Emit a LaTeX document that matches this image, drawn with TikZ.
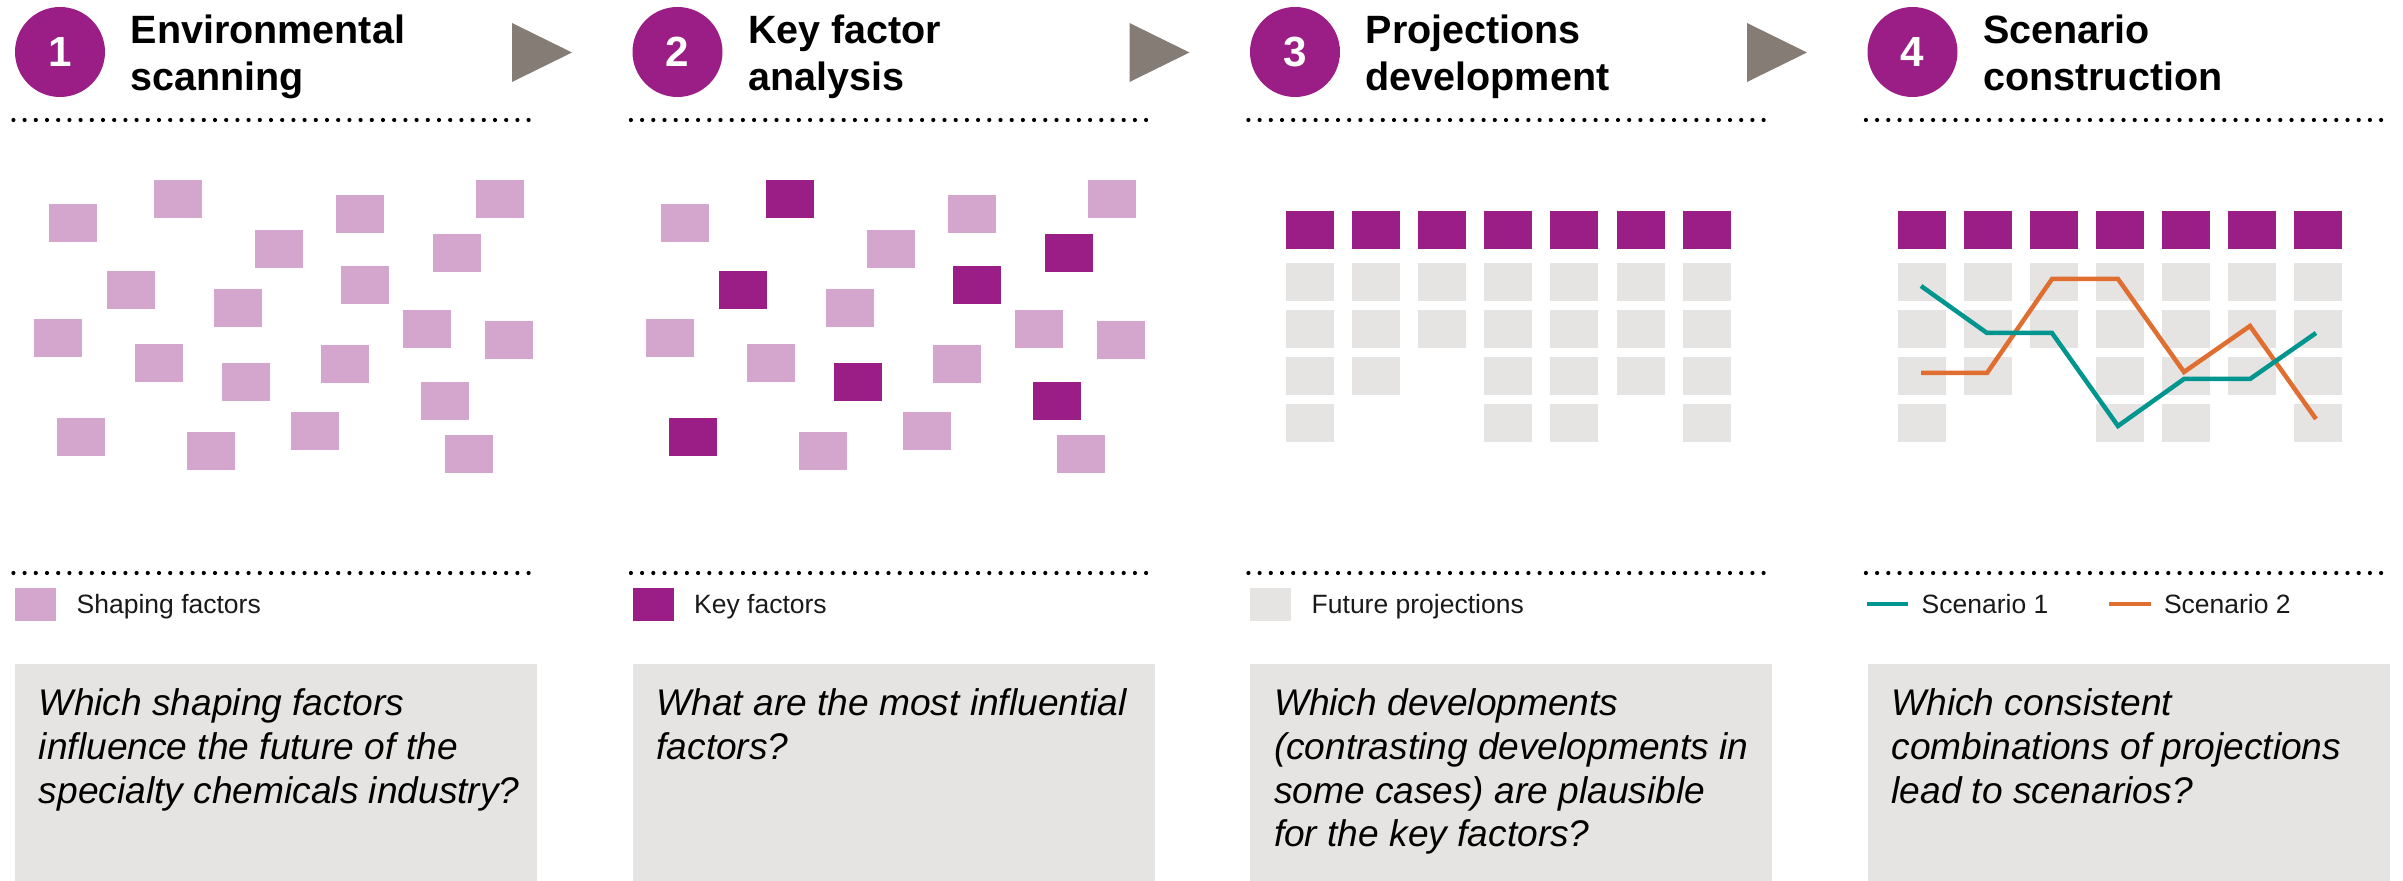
\documentclass[tikz,border=0pt]{standalone}
\usepackage{xcolor}
\usepackage{tikz}
\usepackage{fontspec}
\setmainfont{Liberation Sans}
\definecolor{stepcolor}{HTML}{9B1D86}
\definecolor{factorcolor}{HTML}{D5A6CD}
\definecolor{cellcolor}{HTML}{E5E4E2}
\definecolor{arrowcolor}{HTML}{857C76}
\definecolor{scenonecolor}{HTML}{00968F}
\definecolor{scentwocolor}{HTML}{E06E30}
\tikzset{
  shaping/.style={rectangle, inner sep=0, minimum width=0.48cm, minimum height=0.38cm, fill=factorcolor},
  keyf/.style={shaping, fill=stepcolor},
  proj/.style={shaping, fill=cellcolor},
  stepnum/.style={circle, inner sep=0, minimum size=0.9cm, fill=stepcolor, text=white, font=\fontsize{12pt}{14pt}\selectfont\bfseries},
  steptitle/.style={anchor=north west, inner sep=0, align=left, font=\fontsize{11.24pt}{13.5pt}\selectfont\bfseries},
  legendtxt/.style={anchor=base west, inner sep=0, text=black!90, font=\fontsize{7.54pt}{9pt}\selectfont},
  legendbox/.style={rectangle, inner sep=0, minimum width=0.41cm, minimum height=0.33cm},
  qbox/.style={rectangle, inner sep=0, minimum width=5.22cm, minimum height=2.17cm, fill=cellcolor},
  qtext/.style={anchor=north west, inner sep=0, align=left, font=\fontsize{10.56pt}{12.43pt}\selectfont\itshape},
  dotline/.style={line width=0.042cm, line cap=round, dash pattern=on 0pt off 0.112cm},
  stepmark/.style={fill=arrowcolor},
  scenA/.style={line width=0.045cm, scenonecolor},
  scenB/.style={line width=0.045cm, scentwocolor}
}
\begin{document}
\begin{tikzpicture}%
\useasboundingbox (0,0) rectangle (24.03,-8.81);%
\node[stepnum] (n1) at (0.60, -0.52) {1};%
\node[stepnum] (n2) at (6.775, -0.52) {2};%
\node[stepnum] (n3) at (12.95, -0.52) {3};%
\node[stepnum] (n4) at (19.125, -0.52) {4};%
\node[steptitle] (t1) at (1.30, -0.137) {Environmental\\scanning};%
\node[steptitle] (t2) at (7.475, -0.137) {Key factor\\analysis};%
\node[steptitle] (t3) at (13.65, -0.137) {Projections\\development};%
\node[steptitle] (t4) at (19.825, -0.137) {Scenario\\construction};%
\fill[stepmark] (5.12, -0.23) -- (5.72, -0.525) -- (5.12, -0.82) -- cycle;%
\fill[stepmark] (11.295, -0.23) -- (11.895, -0.525) -- (11.295, -0.82) -- cycle;%
\fill[stepmark] (17.47, -0.23) -- (18.07, -0.525) -- (17.47, -0.82) -- cycle;%
\draw[dotline] (0.134, -1.20) -- (5.30, -1.20);%
\draw[dotline] (6.309, -1.20) -- (11.475, -1.20);%
\draw[dotline] (12.484, -1.20) -- (17.65, -1.20);%
\draw[dotline] (18.659, -1.20) -- (23.825, -1.20);%
\node[shaping] (s1) at (0.73, -2.23) {};%
\node[shaping] (s2) at (1.778, -1.99) {};%
\node[shaping] (s3) at (3.60, -2.14) {};%
\node[shaping] (s4) at (5.001, -1.99) {};%
\node[shaping] (s5) at (2.789, -2.49) {};%
\node[shaping] (s6) at (4.572, -2.53) {};%
\node[shaping] (s7) at (1.312, -2.90) {};%
\node[shaping] (s8) at (3.65, -2.85) {};%
\node[shaping] (s9) at (2.379, -3.08) {};%
\node[shaping] (s10) at (0.581, -3.38) {};%
\node[shaping] (s11) at (4.27, -3.29) {};%
\node[shaping] (s12) at (5.089, -3.40) {};%
\node[shaping] (s13) at (1.591, -3.63) {};%
\node[shaping] (s14) at (3.451, -3.64) {};%
\node[shaping] (s15) at (2.46, -3.82) {};%
\node[shaping] (s16) at (4.45, -4.01) {};%
\node[shaping] (s17) at (0.81, -4.37) {};%
\node[shaping] (s18) at (3.149, -4.31) {};%
\node[shaping] (s19) at (2.111, -4.51) {};%
\node[shaping] (s20) at (4.691, -4.54) {};%
\node[shaping] (k1) at (6.85, -2.23) {};%
\node[keyf] (k2) at (7.898, -1.99) {};%
\node[shaping] (k3) at (9.72, -2.14) {};%
\node[shaping] (k4) at (11.121, -1.99) {};%
\node[shaping] (k5) at (8.909, -2.49) {};%
\node[keyf] (k6) at (10.692, -2.53) {};%
\node[keyf] (k7) at (7.432, -2.90) {};%
\node[keyf] (k8) at (9.77, -2.85) {};%
\node[shaping] (k9) at (8.499, -3.08) {};%
\node[shaping] (k10) at (6.701, -3.38) {};%
\node[shaping] (k11) at (10.39, -3.29) {};%
\node[shaping] (k12) at (11.209, -3.40) {};%
\node[shaping] (k13) at (7.711, -3.63) {};%
\node[shaping] (k14) at (9.571, -3.64) {};%
\node[keyf] (k15) at (8.58, -3.82) {};%
\node[keyf] (k16) at (10.57, -4.01) {};%
\node[keyf] (k17) at (6.93, -4.37) {};%
\node[shaping] (k18) at (9.269, -4.31) {};%
\node[shaping] (k19) at (8.231, -4.51) {};%
\node[shaping] (k20) at (10.811, -4.54) {};%
\node[keyf] (h1) at (13.10, -2.30) {};%
\node[keyf] (h2) at (13.76, -2.30) {};%
\node[keyf] (h3) at (14.42, -2.30) {};%
\node[keyf] (h4) at (15.08, -2.30) {};%
\node[keyf] (h5) at (15.74, -2.30) {};%
\node[keyf] (h6) at (16.41, -2.30) {};%
\node[keyf] (h7) at (17.07, -2.30) {};%
\node[proj] (p11) at (13.10, -2.82) {};%
\node[proj] (p12) at (13.10, -3.29) {};%
\node[proj] (p13) at (13.10, -3.76) {};%
\node[proj] (p14) at (13.10, -4.23) {};%
\node[proj] (p21) at (13.76, -2.82) {};%
\node[proj] (p22) at (13.76, -3.29) {};%
\node[proj] (p23) at (13.76, -3.76) {};%
\node[proj] (p31) at (14.42, -2.82) {};%
\node[proj] (p32) at (14.42, -3.29) {};%
\node[proj] (p41) at (15.08, -2.82) {};%
\node[proj] (p42) at (15.08, -3.29) {};%
\node[proj] (p43) at (15.08, -3.76) {};%
\node[proj] (p44) at (15.08, -4.23) {};%
\node[proj] (p51) at (15.74, -2.82) {};%
\node[proj] (p52) at (15.74, -3.29) {};%
\node[proj] (p53) at (15.74, -3.76) {};%
\node[proj] (p54) at (15.74, -4.23) {};%
\node[proj] (p61) at (16.41, -2.82) {};%
\node[proj] (p62) at (16.41, -3.29) {};%
\node[proj] (p63) at (16.41, -3.76) {};%
\node[proj] (p71) at (17.07, -2.82) {};%
\node[proj] (p72) at (17.07, -3.29) {};%
\node[proj] (p73) at (17.07, -3.76) {};%
\node[proj] (p74) at (17.07, -4.23) {};%
\node[keyf] (g1) at (19.22, -2.30) {};%
\node[keyf] (g2) at (19.88, -2.30) {};%
\node[keyf] (g3) at (20.54, -2.30) {};%
\node[keyf] (g4) at (21.20, -2.30) {};%
\node[keyf] (g5) at (21.86, -2.30) {};%
\node[keyf] (g6) at (22.52, -2.30) {};%
\node[keyf] (g7) at (23.18, -2.30) {};%
\node[proj] (c11) at (19.22, -2.82) {};%
\node[proj] (c12) at (19.22, -3.29) {};%
\node[proj] (c13) at (19.22, -3.76) {};%
\node[proj] (c14) at (19.22, -4.23) {};%
\node[proj] (c21) at (19.88, -2.82) {};%
\node[proj] (c22) at (19.88, -3.29) {};%
\node[proj] (c23) at (19.88, -3.76) {};%
\node[proj] (c31) at (20.54, -2.82) {};%
\node[proj] (c32) at (20.54, -3.29) {};%
\node[proj] (c41) at (21.20, -2.82) {};%
\node[proj] (c42) at (21.20, -3.29) {};%
\node[proj] (c43) at (21.20, -3.76) {};%
\node[proj] (c44) at (21.20, -4.23) {};%
\node[proj] (c51) at (21.86, -2.82) {};%
\node[proj] (c52) at (21.86, -3.29) {};%
\node[proj] (c53) at (21.86, -3.76) {};%
\node[proj] (c54) at (21.86, -4.23) {};%
\node[proj] (c61) at (22.52, -2.82) {};%
\node[proj] (c62) at (22.52, -3.29) {};%
\node[proj] (c63) at (22.52, -3.76) {};%
\node[proj] (c71) at (23.18, -2.82) {};%
\node[proj] (c72) at (23.18, -3.29) {};%
\node[proj] (c73) at (23.18, -3.76) {};%
\node[proj] (c74) at (23.18, -4.23) {};%
\draw[scenB] (19.21, -3.73) -- (19.87, -3.73) -- (20.52, -2.79) -- (21.18, -2.79) -- (21.84, -3.72) -- (22.50, -3.26) -- (23.16, -4.19);%
\draw[scenA] (19.21, -2.86) -- (19.87, -3.33) -- (20.52, -3.33) -- (21.18, -4.26) -- (21.84, -3.79) -- (22.50, -3.79) -- (23.16, -3.33);%
\draw[dotline] (0.134, -5.73) -- (5.30, -5.73);%
\draw[dotline] (6.309, -5.73) -- (11.475, -5.73);%
\draw[dotline] (12.484, -5.73) -- (17.65, -5.73);%
\draw[dotline] (18.659, -5.73) -- (23.825, -5.73);%
\node[legendbox, fill=factorcolor] (l1) at (0.355, -6.045) {};%
\node[legendtxt] (lt1) at (0.76, -6.14) {Shaping factors};%
\node[legendbox, fill=stepcolor] (l2) at (6.53, -6.045) {};%
\node[legendtxt] (lt2) at (6.935, -6.14) {Key factors};%
\node[legendbox, fill=cellcolor] (l3) at (12.705, -6.045) {};%
\node[legendtxt] (lt3) at (13.11, -6.14) {Future projections};%
\coordinate (la) at (18.667, -6.04);%
\coordinate (lb) at (19.083, -6.04);%
\draw[scenA] (la) -- (lb);%
\node[legendtxt] (lt4) at (19.21, -6.14) {Scenario 1};%
\coordinate (lc) at (21.093, -6.04);%
\coordinate (ld) at (21.507, -6.04);%
\draw[scenB] (lc) -- (ld);%
\node[legendtxt] (lt5) at (21.633, -6.14) {Scenario 2};%
\node[qbox] (b1) at (2.76, -7.725) {};%
\node[qbox] (b2) at (8.935, -7.725) {};%
\node[qbox] (b3) at (15.11, -7.725) {};%
\node[qbox] (b4) at (21.285, -7.725) {};%
\node[qtext] (q1) at ([xshift=0.24cm, yshift=-0.25cm]b1.north west) {Which shaping factors\\influence the future of the\\specialty chemicals industry?};%
\node[qtext] (q2) at ([xshift=0.24cm, yshift=-0.25cm]b2.north west) {What are the most influential\\factors?};%
\node[qtext] (q3) at ([xshift=0.24cm, yshift=-0.25cm]b3.north west) {Which developments\\(contrasting developments in\\some cases) are plausible\\for the key factors?};%
\node[qtext] (q4) at ([xshift=0.24cm, yshift=-0.25cm]b4.north west) {Which consistent\\combinations of projections\\lead to scenarios?};%
\end{tikzpicture}
\end{document}
